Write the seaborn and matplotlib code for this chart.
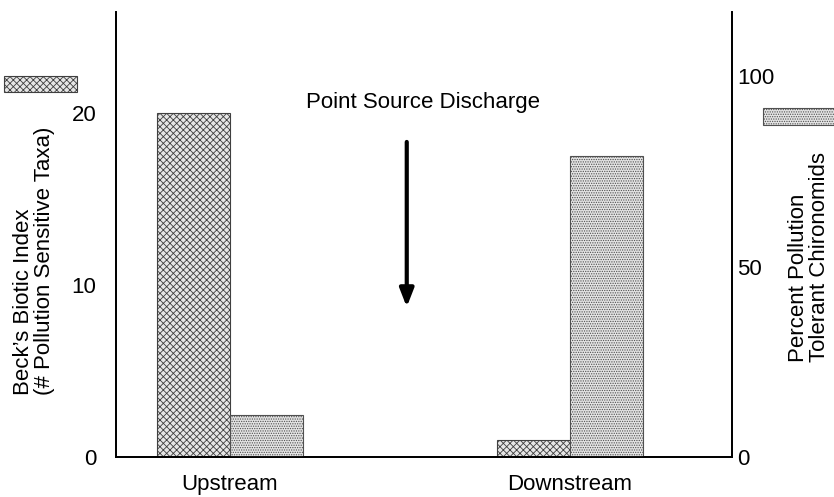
import matplotlib
matplotlib.use("Agg")
import matplotlib.pyplot as plt
import seaborn as sns
import pandas as pd
import numpy as np
from matplotlib.patches import Rectangle

# ---- data ----
sites = ["Upstream", "Downstream"]
beck_index = [20, 1]            # left axis: Beck's Biotic Index
pct_tolerant = [11, 79]         # right axis: % pollution tolerant chironomids
series = ["Beck", "Percent"]
left_ticks = [0, 10, 20]
right_ticks = [0, 50, 100]

sns.set_theme(style="white")
plt.rcParams["font.family"] = ["Liberation Sans", "DejaVu Sans"]
plt.rcParams["hatch.linewidth"] = 0.6

df = pd.DataFrame({
    "site": sites * 2,
    "series": [series[0]] * 2 + [series[1]] * 2,
    "left": beck_index + [np.nan] * 2,
    "right": [np.nan] * 2 + pct_tolerant,
})

fig = plt.figure(figsize=(8.34, 4.97), dpi=100)
ax1 = fig.add_axes([116 / 834, 1 - 457 / 497, 616 / 834, 445 / 497])
ax2 = ax1.twinx()

sns.barplot(data=df, x="site", y="left", hue="series", hue_order=series,
            order=sites, dodge=True, width=0.43, ax=ax1, legend=False,
            palette=["#ffffff", "#ffffff"], edgecolor="#333333", linewidth=0.8)
sns.barplot(data=df, x="site", y="right", hue="series", hue_order=series,
            order=sites, dodge=True, width=0.43, ax=ax2, legend=False,
            palette=["#ffffff", "#ffffff"], edgecolor="#333333", linewidth=0.8)

for p in ax1.patches:
    p.set_hatch("xxxxx")
    p.set_facecolor("#e6e6e6")
    p.set_edgecolor("#404040")
for p in ax2.patches:
    p.set_hatch(".......")
    p.set_facecolor("#e4e4e4")
    p.set_edgecolor("#505050")

ax1.set_xlim(-0.335, 1.476)
ax1.set_ylim(0, 25.9)
ax2.set_ylim(0, 116.8)
ax1.set_yticks(left_ticks)
ax2.set_yticks(right_ticks)
ax1.set_xlabel("")
ax1.set_ylabel("")
ax2.set_ylabel("")

for a in (ax1, ax2):
    a.spines["top"].set_visible(False)
    for s in ("left", "right", "bottom"):
        a.spines[s].set_color("black")
        a.spines[s].set_linewidth(1.3)
    a.grid(False)
ax1.spines["right"].set_visible(True)

ax1.tick_params(axis="y", length=0, pad=14, labelsize=16, colors="black")
ax2.tick_params(axis="y", length=0, pad=4, labelsize=16, colors="black")
ax1.tick_params(axis="x", length=0, pad=12, labelsize=16, colors="black")

# annotation
ax1.text(0.498, 0.796, "Point Source Discharge", transform=ax1.transAxes,
         ha="center", va="center", fontsize=16, color="black")
ax1.annotate("", xy=(0.472, 0.337), xycoords="axes fraction",
             xytext=(0.472, 0.708), textcoords="axes fraction",
             arrowprops=dict(arrowstyle="-|>,head_width=0.35,head_length=0.9",
                             lw=3, color="black", shrinkA=0, shrinkB=0))

# axis titles
fig.text(34 / 834, 1 - 395 / 497, "Beck’s Biotic Index\n(# Pollution Sensitive Taxa)",
         rotation=90, ha="center", va="bottom", fontsize=16, multialignment="left",
         linespacing=1.05, color="black")
fig.text(809 / 834, 1 - 362 / 497, "Percent Pollution\nTolerant Chironomids",
         rotation=90, ha="center", va="bottom", fontsize=16, multialignment="left",
         linespacing=1.05, color="black")

# legend keys
r1 = Rectangle((4 / 834, 1 - 92 / 497), 73 / 834, 16 / 497, transform=fig.transFigure,
               facecolor="#e6e6e6", edgecolor="#404040", hatch="xxxxx", lw=0.8)
r2 = Rectangle((763 / 834, 1 - 125 / 497), 80 / 834, 17 / 497, transform=fig.transFigure,
               facecolor="#e4e4e4", edgecolor="#505050", hatch=".......", lw=0.8)
fig.add_artist(r1)
fig.add_artist(r2)

fig.savefig("out.png", dpi=100)
